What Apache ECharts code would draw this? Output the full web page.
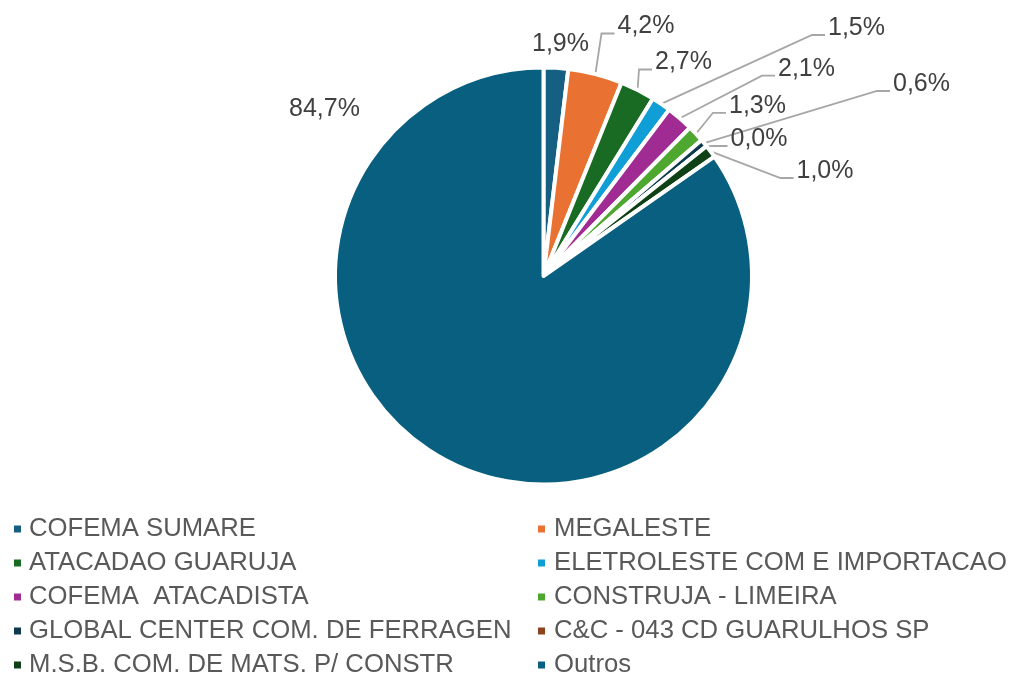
<!DOCTYPE html>
<html>
<head>
<meta charset="utf-8">
<script src="https://cdn.jsdelivr.net/npm/echarts@6/dist/echarts.min.js"></script>
<style>html,body{margin:0;padding:0;background:#fff;}#c{width:1014px;height:673px;}</style>
</head>
<body>
<div id="c"></div>
<script>
var categories = ['COFEMA SUMARE', 'MEGALESTE', 'ATACADAO GUARUJA', 'ELETROLESTE COM E IMPORTACAO',
  'COFEMA  ATACADISTA', 'CONSTRUJA - LIMEIRA', 'GLOBAL CENTER COM. DE FERRAGEN',
  'C&C - 043 CD GUARULHOS SP', 'M.S.B. COM. DE MATS. P/ CONSTR', 'Outros'];
var shares = [1.9, 4.2, 2.7, 1.5, 2.1, 1.3, 0.6, 0.0, 1.0, 84.7];
var colors = ['#156082', '#E97132', '#196B24', '#0F9ED5', '#A02B93', '#4EA72E',
  '#0D3A4E', '#8C441E', '#0F4016', '#095F80'];
// label text anchor: [left x, middle y]
var labelAnchors = [[532, 44], [617.5, 26.5], [655, 62.5], [828, 28], [778, 68.7],
  [729, 105.8], [893, 84], [730.5, 139], [796.5, 171], [289, 109]];
var noLeader = [0, 9];

var chart = echarts.init(document.getElementById('c'), null, {renderer: 'canvas'});
var data = categories.map(function (n, i) {
  return {
    name: n, value: shares[i],
    itemStyle: {color: colors[i]},
    labelLine: {show: noLeader.indexOf(i) < 0}
  };
});
var col1 = categories.filter(function (n, i) { return i % 2 === 0; });
var col2 = categories.filter(function (n, i) { return i % 2 === 1; });
var legendCommon = {
  orient: 'vertical', top: 516, height: 200, padding: 0,
  itemWidth: 9, itemHeight: 9, itemGap: 8, icon: 'rect',
  selectedMode: false,
  textStyle: {fontFamily: 'Liberation Sans, Arial, sans-serif', fontSize: 25.7, color: '#595959', lineHeight: 26}
};
chart.setOption({
  backgroundColor: '#ffffff',
  animation: false,
  legend: [
    Object.assign({}, legendCommon, {left: 12, data: col1, textStyle: Object.assign({}, legendCommon.textStyle, {padding: [0, 0, 0, 2]})}),
    Object.assign({}, legendCommon, {left: 536, data: col2, textStyle: Object.assign({}, legendCommon.textStyle, {padding: [0, 0, 0, 3]})})
  ],
  series: [{
    type: 'pie',
    center: [543.5, 276],
    radius: [0, 208.5],
    startAngle: 90,
    clockwise: true,
    avoidLabelOverlap: false,
    itemStyle: {borderColor: '#ffffff', borderWidth: 4},
    label: {
      show: true, position: 'outside',
      fontFamily: 'Liberation Sans, Arial, sans-serif', fontSize: 25, color: '#404040',
      formatter: function (p) { return p.value.toFixed(1).replace('.', ',') + '%'; }
    },
    labelLine: {show: true, length: 10, length2: 10, lineStyle: {color: '#A6A6A6', width: 1.8}},
    labelLayout: function (p) {
      var a = labelAnchors[p.dataIndex];
      var res = {x: a[0], y: a[1], align: 'left', verticalAlign: 'middle', hideOverlap: false, moveOverlap: null};
      var pts = p.labelLinePoints;
      if (pts && noLeader.indexOf(p.dataIndex) < 0) {
        res.labelLinePoints = [pts[0], [a[0] - 16, a[1] + 7], [a[0] - 3, a[1] + 7]];
      }
      return res;
    },
    emphasis: {disabled: true},
    data: data
  }]
});
</script>
</body>
</html>
